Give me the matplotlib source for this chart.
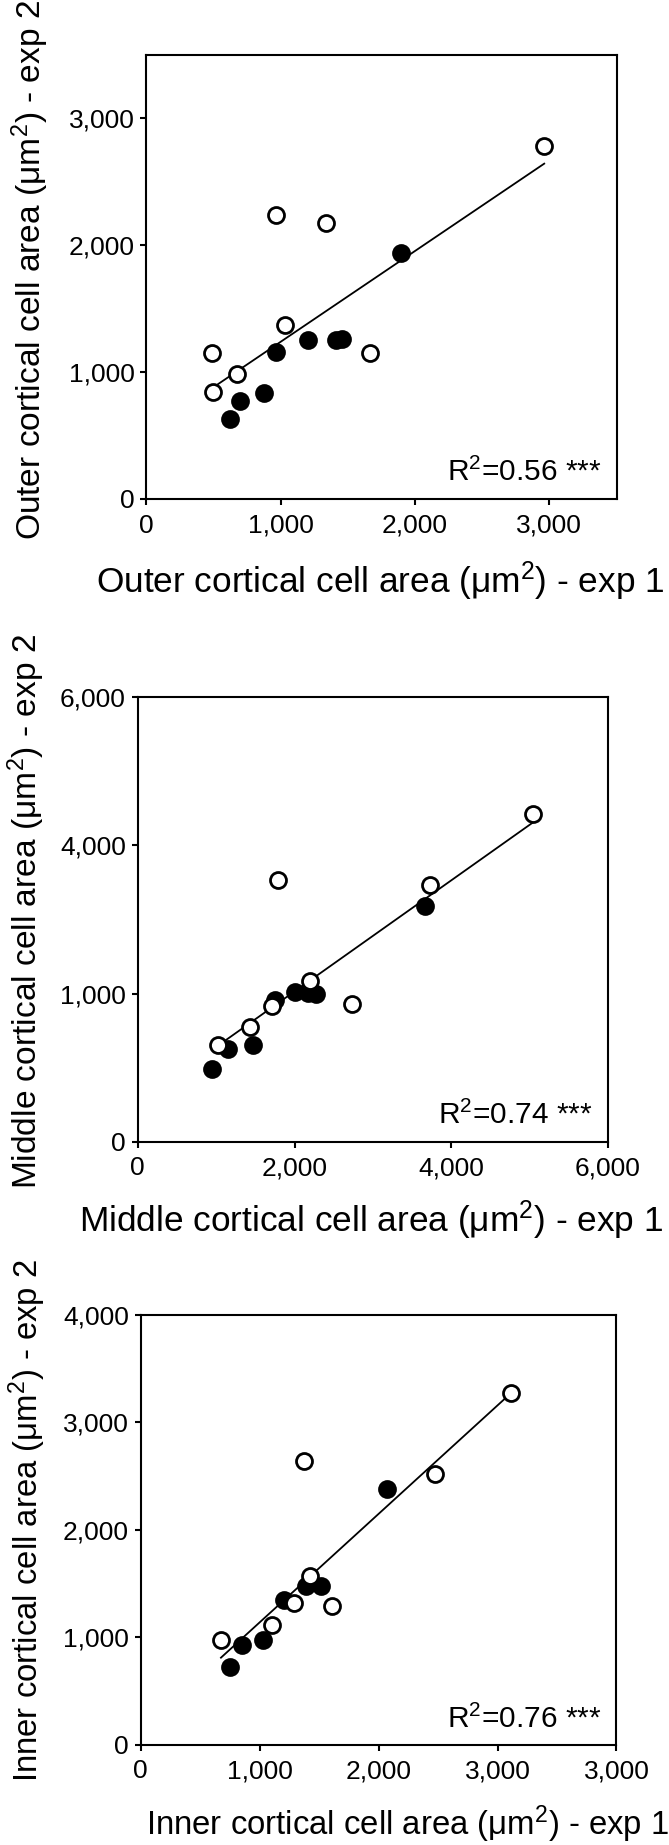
import numpy as np
import matplotlib.pyplot as plt

plt.rcParams['font.family'] = ['Liberation Sans', 'DejaVu Sans']
plt.rcParams['mathtext.fontset'] = 'custom'
plt.rcParams['mathtext.rm'] = 'Liberation Sans'
plt.rcParams['mathtext.it'] = 'Liberation Sans:italic'
plt.rcParams['mathtext.bf'] = 'Liberation Sans:bold'

# outer cortical cells
outer_open_x = [490, 494, 678, 1032, 962, 1334, 1666, 2962]
outer_open_y = [1149, 840, 981, 1371, 2240, 2177, 1149, 2781]
outer_fill_x = [624, 697, 879, 968, 1204, 1414, 1455, 1895]
outer_fill_y = [628, 769, 833, 1156, 1253, 1253, 1260, 1938]
outer_ticks = [0, 1000, 2000, 3000]
outer_ticklabels = ['0', '1,000', '2,000', '3,000']

# middle cortical cells
middle_open_x = [1024, 1432, 1710, 1786, 2200, 2739, 3725, 5048]
middle_open_y = [1307, 1555, 1831, 3530, 2171, 1854, 3467, 4423]
middle_fill_x = [953, 1154, 1465, 1753, 2004, 2173, 2271, 3670]
middle_fill_y = [979, 1250, 1307, 1918, 2021, 2010, 1998, 3185]
middle_ticks = [0, 2000, 4000, 6000]
middle_xticklabels = ['0', '2,000', '4,000', '6,000']
middle_yticklabels = ['0', '1,000', '4,000', '6,000']

# inner cortical cells
inner_open_x = [674, 1101, 1288, 1370, 1424, 1607, 2472, 3110]
inner_open_y = [972, 1111, 1321, 2639, 1567, 1290, 2520, 3274]
inner_fill_x = [753, 847, 1030, 1202, 1385, 1517, 2070]
inner_fill_y = [726, 925, 972, 1349, 1472, 1472, 2381]
inner_ticks = [0, 1000, 2000, 3000, 4000]
inner_xticklabels = ['0', '1,000', '2,000', '3,000', '3,000']
inner_yticklabels = ['0', '1,000', '2,000', '3,000', '4,000']

W, H = 669, 1845
fig = plt.figure(figsize=(W / 100, H / 100), dpi=100)


def box(l, t, r, b):
    return [l / W, 1 - b / H, (r - l) / W, (b - t) / H]


def panel(rect, ox, oy, fx, fy, lim, ticks, xtl, ytl, r2):
    ax = fig.add_axes(box(*rect))
    allx = np.array(ox + fx)
    ally = np.array(oy + fy)
    k, c = np.polyfit(allx, ally, 1)
    lx = np.array([allx.min(), allx.max()])
    ax.plot(lx, k * lx + c, color='black', lw=1.3, zorder=2)
    ax.plot(fx, fy, 'o', ms=11.5, mfc='black', mec='black', mew=2, zorder=3)
    ax.plot(ox, oy, 'o', ms=11.5, mfc='white', mec='black', mew=2, zorder=4)
    ax.set_xlim(0, lim)
    ax.set_ylim(0, lim)
    ax.set_xticks(ticks)
    ax.set_xticklabels(xtl)
    ax.set_yticks(ticks)
    ax.set_yticklabels(ytl)
    for s in ax.spines.values():
        s.set_linewidth(1.5)
    ax.tick_params(axis='both', direction='out', length=4.5, width=1.5,
                   labelsize=19)
    ax.tick_params(axis='x', pad=6)
    ax.tick_params(axis='y', pad=4)
    ax.text(0.968, 0.04, r2, transform=ax.transAxes, ha='right',
            va='baseline', fontsize=21.5)
    return ax


def label(x, y, s, size, rot=0):
    fig.text(x / W, 1 - y / H, s, ha='center', va='center',
             fontsize=size, rotation=rot)


panel((146.3, 54.6, 616.5, 499), outer_open_x, outer_open_y,
      outer_fill_x, outer_fill_y, 3500, outer_ticks,
      outer_ticklabels, outer_ticklabels, 'R$^2$=0.56 ***')
label(380, 581, 'Outer cortical cell area (μm$^2$) - exp 1', 25.4)
label(30, 270, 'Outer cortical cell area (μm$^2$) - exp 2', 24.1, 90)

panel((137.8, 697.3, 608, 1141.8), middle_open_x, middle_open_y,
      middle_fill_x, middle_fill_y, 6000, middle_ticks,
      middle_xticklabels, middle_yticklabels, 'R$^2$=0.74 ***')
label(371, 1220.7, 'Middle cortical cell area (μm$^2$) - exp 1', 25.4)
label(26.5, 911, 'Middle cortical cell area (μm$^2$) - exp 2', 24.1, 90)

panel((140.8, 1314.7, 616.5, 1744.7), inner_open_x, inner_open_y,
      inner_fill_x, inner_fill_y, 4000, inner_ticks,
      inner_xticklabels, inner_yticklabels, 'R$^2$=0.76 ***')
label(407.6, 1824.5, 'Inner cortical cell area (μm$^2$) - exp 1', 23.7)
label(27.7, 1520.5, 'Inner cortical cell area (μm$^2$) - exp 2', 23.7, 90)

fig.savefig('out.png', dpi=100)
